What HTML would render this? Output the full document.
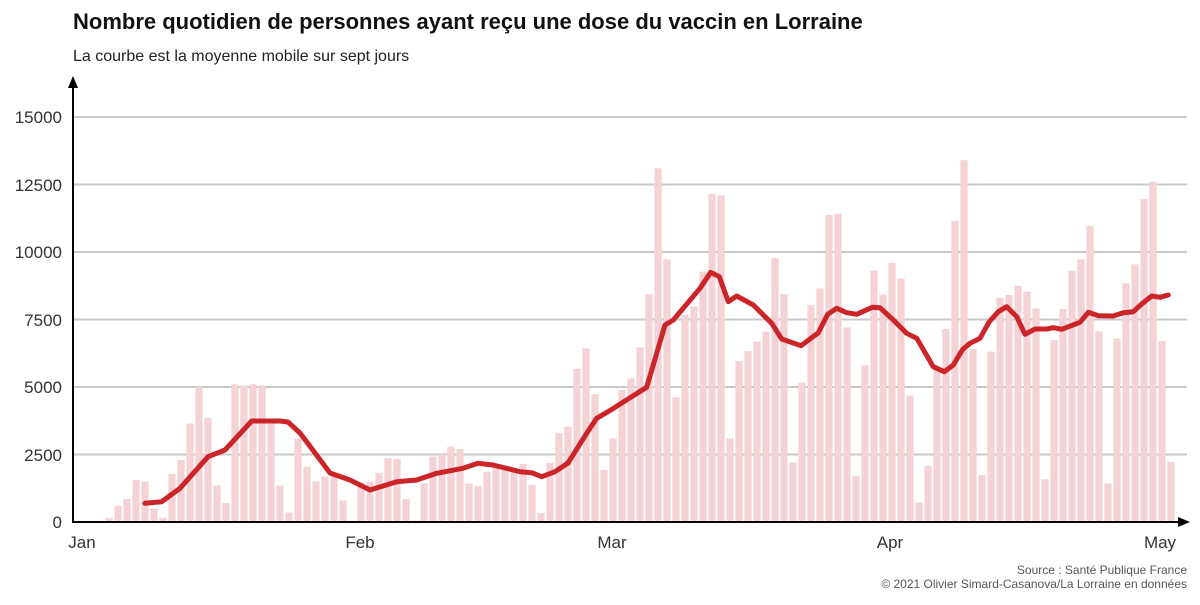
<!DOCTYPE html>
<html><head><meta charset="utf-8"><style>
html,body{margin:0;padding:0;background:#fff;}
body{width:1200px;height:600px;overflow:hidden;font-family:"Liberation Sans",sans-serif;}
</style></head><body>
<svg id="s" width="1200" height="600" xmlns="http://www.w3.org/2000/svg" font-family="Liberation Sans, sans-serif">
<text x="73" y="29" font-size="22" font-weight="bold" fill="#111">Nombre quotidien de personnes ayant reçu une dose du vaccin en Lorraine</text>
<text x="73" y="61" font-size="16" fill="#222">La courbe est la moyenne mobile sur sept jours</text>
<g stroke="#c9c9c9" stroke-width="2">
<line x1="73" x2="1187" y1="117" y2="117"/><line x1="73" x2="1187" y1="184.5" y2="184.5"/>
<line x1="73" x2="1187" y1="252" y2="252"/><line x1="73" x2="1187" y1="319.5" y2="319.5"/>
<line x1="73" x2="1187" y1="387" y2="387"/><line x1="73" x2="1187" y1="454.5" y2="454.5"/>
</g>
<g font-size="17" fill="#333" text-anchor="end">
<text x="62" y="123">15000</text><text x="62" y="191">12500</text><text x="62" y="258">10000</text>
<text x="62" y="326">7500</text><text x="62" y="393">5000</text><text x="62" y="461">2500</text><text x="62" y="528">0</text>
</g>
<g id="bars" fill="#f4d2d5"></g>
<polyline fill="none" stroke="#cc2529" stroke-width="5" stroke-linejoin="round" stroke-linecap="round" points="145,503.3 161.7,501.7 180,488.3 208,456.7 225,450 251.7,421 280,421 288,422 300,433 330,473 350,480 360,485 370,490 396.7,481.7 416.7,480 436.7,473.3 463,468.3 478,463.3 493,465 520,471.7 531.7,472.7 541.7,476.7 555,471.7 568,463 586.7,433.3 596.7,418.3 608,411.7 623,402.3 631.7,396.7 646.7,387.3 665,325 673.3,320 700,288.3 710.7,272.3 719.3,276.7 728.3,301.7 736.7,296 753.3,305 771.7,323.3 781.7,339 801,345.7 818.3,332.7 827.7,314.3 836.7,308.3 846.7,312.7 856.7,314.3 872.3,307.3 880,307.7 893.3,320 906.7,333.3 916.7,338.3 933.3,366.7 944.3,371.7 953.3,365 962.7,349.3 970,343.3 980,338.3 989.3,321.7 998.3,311.7 1006.7,306.7 1016.7,316.7 1025,334.3 1035,329 1046.7,329 1053.3,327.7 1061.7,329.3 1080,322.3 1088.3,312.3 1098.3,315.7 1113.3,316 1123.3,312.7 1133.3,311.7 1141.7,304 1151.7,296 1160,297.3 1168.3,295"/>
<line x1="73" y1="522" x2="73" y2="85" stroke="#000" stroke-width="2"/>
<polygon points="73,76 68,88 78,88" fill="#000"/>
<line x1="72" y1="522" x2="1180" y2="522" stroke="#000" stroke-width="2"/>
<polygon points="1190,522 1178,517 1178,527" fill="#000"/>
<g font-size="17" fill="#333" text-anchor="middle">
<text x="82" y="548">Jan</text><text x="360" y="548">Feb</text><text x="612" y="548">Mar</text>
<text x="890" y="548">Apr</text><text x="1160" y="548">May</text>
</g>
<g font-size="12" fill="#555" text-anchor="end">
<text x="1187" y="574">Source : Santé Publique France</text>
<text x="1187" y="588">© 2021 Olivier Simard-Casanova/La Lorraine en données</text>
</g>
</svg>
<script>
var v=[0,0,0,150,600,850,1550,1500,500,150,1780,2300,3650,5000,3850,1350,700,5100,5050,5100,5050,3800,1350,350,3100,2050,1500,1680,1680,800,0,1440,1490,1810,2360,2330,850,50,1440,2420,2500,2790,2700,1420,1330,1860,2150,2050,1860,2150,1370,330,2180,3290,3530,5670,6430,4740,1930,3100,4890,5320,6470,8440,13100,9730,4620,7670,7980,9270,12150,12100,3100,5960,6330,6680,7050,9770,8440,2200,5160,8030,8650,11370,11420,7210,1700,5800,9310,8430,9600,9020,4680,720,2070,5690,7150,11150,13400,6410,1740,6310,8310,8410,8750,8530,7910,1580,6740,7890,9310,9730,10970,7070,1430,6800,8840,9540,11960,12600,6700,2230];
var g=document.getElementById('bars'),ns='http://www.w3.org/2000/svg';
for(var i=0;i<v.length;i++){if(!v[i])continue;var h=v[i]*0.027;var r=document.createElementNS(ns,'rect');
r.setAttribute('x',82+9*i-3.6);r.setAttribute('width',7.2);r.setAttribute('y',522-h);r.setAttribute('height',h);g.appendChild(r);}
</script>
</body></html>
